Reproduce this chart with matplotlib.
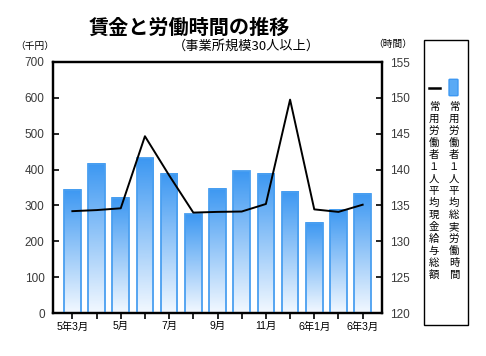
import matplotlib.pyplot as plt
import numpy as np
from matplotlib.colors import LinearSegmentedColormap
from matplotlib.patches import Rectangle, FancyBboxPatch
from matplotlib.lines import Line2D

plt.rcParams['font.family'] = ['Liberation Sans', 'Noto Sans CJK JP', 'DejaVu Sans']

# data
months = ['5年3月', '4月', '5月', '6月', '7月', '8月', '9月', '10月', '11月',
          '12月', '6年1月', '2月', '6年3月']
tick_labels = ['5年3月', '', '5月', '', '7月', '', '9月', '', '11月', '', '6年1月', '', '6年3月']
hours = [137.2, 140.8, 136.1, 141.6, 139.4, 133.8, 137.3, 139.8, 139.4, 136.9, 132.6, 134.4, 136.6]
wages = [284, 287, 292, 493, 384, 280, 282, 283, 304, 595, 289, 282, 302]

bar_label = '常用労働者１人平均総実労働時間'
line_label = '常用労働者１人平均現金給与総額'

W, H = 486, 356
fig = plt.figure(figsize=(W / 100, H / 100), dpi=100)

ax = fig.add_axes([53 / W, 1 - 313 / H, 329 / W, 251 / H])   # wages, left
ax2 = ax.twinx()                                              # hours, right

x = np.arange(len(months))
bw = 0.69
cmap = LinearSegmentedColormap.from_list('bar', ['#f2f8ff', '#3d98f2'])
grad = np.linspace(0, 1, 100).reshape(-1, 1)

# bars on the hours axis, drawn behind the wage line
ax2.set_zorder(1)
ax.set_zorder(2)
ax.patch.set_visible(False)
for xi, h in zip(x, hours):
    ax2.imshow(grad, extent=[xi - bw / 2, xi + bw / 2, 120, h], origin='lower',
               aspect='auto', cmap=cmap, zorder=2)
    ax2.add_patch(Rectangle((xi - bw / 2, 120), bw, h - 120, fill=False,
                            edgecolor='#4a9ff0', linewidth=1.3, zorder=3))

ax.plot(x, wages, color='black', linewidth=1.4, zorder=5)

ax.set_xlim(-0.8, 12.8)
ax.set_ylim(0, 700)
ax2.set_ylim(120, 155)
ax.set_yticks(range(0, 701, 100))
ax2.set_yticks(range(120, 156, 5))
ax.set_xticks(x)
ax.set_xticklabels(tick_labels, fontsize=7.5)

ax.tick_params(axis='y', direction='in', length=4, width=1.2, labelsize=8.5,
               labelcolor='#3a3a3a', pad=6)
ax2.tick_params(axis='y', direction='in', length=4, width=1.2, labelsize=8.5,
                labelcolor='#3a3a3a', pad=6)
ax.tick_params(axis='x', direction='out', length=4, width=1.2, pad=2)
ax2.tick_params(axis='x', length=0)
for a in (ax, ax2):
    for s in a.spines.values():
        s.set_linewidth(1.6)

# titles
fig.text(189 / W, 1 - 27 / H, '賃金と労働時間の推移', fontsize=14.5, fontweight='bold',
         ha='center', va='center', family=['Noto Sans CJK JP'])
fig.text(246 / W, 1 - 46 / H, '（事業所規模30人以上）', fontsize=9.5,
         ha='center', va='center', family=['Noto Sans CJK JP'])
fig.text(35 / W, 1 - 46 / H, '（千円）', fontsize=7, ha='center', va='center',
         family=['Noto Sans CJK JP'])
fig.text(393 / W, 1 - 44 / H, '（時間）', fontsize=7, ha='center', va='center',
         family=['Noto Sans CJK JP'])

# legend box
fig.patches.append(Rectangle((424 / W, 1 - 325 / H), 44 / W, 285 / H, fill=False,
                             edgecolor='black', linewidth=1.0,
                             transform=fig.transFigure, figure=fig))
fig.patches.append(FancyBboxPatch((450 / W, 1 - 95 / H), 7 / W, 15 / H,
                                  boxstyle='round,pad=0.002', facecolor='#5aaaf5',
                                  edgecolor='#3d98f2', linewidth=1.0,
                                  transform=fig.transFigure, figure=fig))
fig.lines.append(Line2D([429 / W, 440 / W], [1 - 88 / H, 1 - 88 / H], color='black',
                        linewidth=1.8, transform=fig.transFigure, figure=fig))
for i, (cb, cl) in enumerate(zip(bar_label, line_label)):
    yy = 1 - (107 + i * 12) / H
    fig.text(454 / W, yy, cb, fontsize=7.5, ha='center', va='center',
             family=['Noto Sans CJK JP'])
    fig.text(434 / W, yy, cl, fontsize=7.5, ha='center', va='center',
             family=['Noto Sans CJK JP'])

fig.savefig('out.png', dpi=100)
